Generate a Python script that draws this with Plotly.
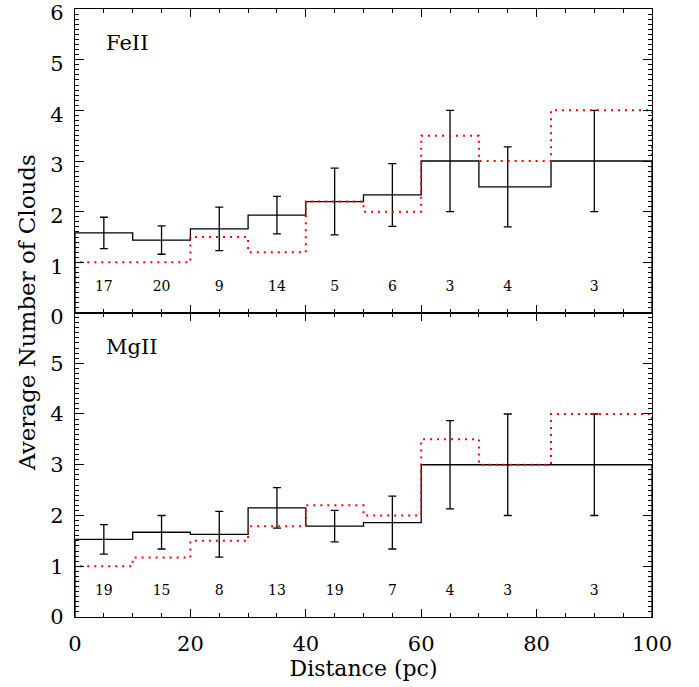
import plotly.graph_objects as go

# ---- data ----
bin_edges = [0, 10, 20, 30, 40, 50, 60, 70, 82.5, 100]
bar_centers = [5, 15, 25, 35, 45, 55, 65, 75, 90]

fe_mean = [1.58, 1.44, 1.66, 1.93, 2.20, 2.33, 3.0, 2.49, 3.0]
fe_err = [0.31, 0.28, 0.43, 0.37, 0.66, 0.62, 1.0, 0.79, 1.0]
fe_median = [1.0, 1.0, 1.5, 1.2, 2.2, 2.0, 3.5, 3.0, 4.0]
fe_counts = ["17", "20", "9", "14", "5", "6", "3", "4", "3"]

mg_mean = [1.53, 1.67, 1.63, 2.15, 1.79, 1.86, 3.0, 3.0, 3.0]
mg_err = [0.29, 0.33, 0.45, 0.40, 0.31, 0.52, 0.87, 1.0, 1.0]
mg_median = [1.0, 1.17, 1.5, 1.79, 2.2, 2.0, 3.5, 3.0, 4.0]
mg_counts = ["19", "15", "8", "13", "19", "7", "4", "3", "3"]

panel_names = ["FeII", "MgII"]

FONT = "DejaVu Serif"


def step_xy(edges, vals):
    xs = [edges[0]] + list(edges[:-1]) + [edges[-1], edges[-1]]
    ys = [0] + list(vals) + [vals[-1], 0]
    return xs, ys


fig = go.Figure()

panels = [
    (fe_mean, fe_err, fe_median, fe_counts, "x", "y"),
    (mg_mean, mg_err, mg_median, mg_counts, "x2", "y2"),
]

for mean, err, med, counts, xa, ya in panels:
    xs, ys = step_xy(bin_edges, mean)
    fig.add_trace(go.Scatter(x=xs, y=ys, mode="lines", line_shape="hv",
                             line=dict(color="black", width=1.3),
                             xaxis=xa, yaxis=ya, showlegend=False, hoverinfo="skip"))
    fig.add_trace(go.Scatter(x=bar_centers, y=mean, mode="markers",
                             marker=dict(size=1, color="rgba(0,0,0,0)"),
                             error_y=dict(type="data", array=err, symmetric=True,
                                          color="black", thickness=1.3, width=4),
                             xaxis=xa, yaxis=ya, showlegend=False, hoverinfo="skip"))
    xs, ys = step_xy(bin_edges, med)
    fig.add_trace(go.Scatter(x=xs, y=ys, mode="lines", line_shape="hv",
                             line=dict(color="#ff0000", width=2, dash="2px,5px"),
                             xaxis=xa, yaxis=ya, showlegend=False, hoverinfo="skip"))
    fig.add_trace(go.Scatter(x=bar_centers, y=[0.5] * len(bar_centers), mode="text",
                             text=counts, textfont=dict(family=FONT, size=14, color="black"),
                             xaxis=xa, yaxis=ya, showlegend=False, hoverinfo="skip"))

for name, xa, ya in [(panel_names[0], "x", "y"), (panel_names[1], "x2", "y2")]:
    fig.add_annotation(text=name, x=5, y=5.33, xref=xa, yref=ya, xanchor="left",
                       yanchor="middle", showarrow=False,
                       font=dict(family=FONT, size=21, color="black"))

common_x = dict(range=[0, 100], tickmode="linear", tick0=0, dtick=20, ticks="inside",
                ticklen=8, tickwidth=1.3, tickcolor="black", showline=True,
                linecolor="black", linewidth=1.4, mirror="allticks", showgrid=False,
                zeroline=False, automargin=False, ticklabeloverflow="allow",
                minor=dict(dtick=5, ticks="inside", ticklen=4, tickwidth=1.1,
                           tickcolor="black", showgrid=False),
                tickfont=dict(family=FONT, size=21, color="black"))
common_y = dict(tickmode="linear", tick0=0, dtick=1, ticks="inside", ticklen=9,
                tickwidth=1.3, tickcolor="black", showline=True, linecolor="black",
                linewidth=1.4, mirror="allticks", showgrid=False, zeroline=False,
                automargin=False, ticklabeloverflow="allow",
                minor=dict(dtick=0.1, ticks="inside", ticklen=4, tickwidth=1,
                           tickcolor="black", showgrid=False),
                tickfont=dict(family=FONT, size=21, color="black"),
                ticklabelstandoff=6)

fig.update_layout(
    width=699, height=687,
    margin=dict(l=75, r=47, t=9, b=70, autoexpand=False),
    paper_bgcolor="white", plot_bgcolor="white",
    xaxis=dict(**common_x, anchor="y", showticklabels=False, matches="x2"),
    yaxis=dict(**common_y, domain=[0.5, 1], anchor="x", range=[0, 6.0001],
               ticklabelshift=4),
    xaxis2=dict(**common_x, anchor="y2", ticklabelstandoff=8,
                title=dict(text="Distance (pc)", standoff=2,
                           font=dict(family=FONT, size=22, color="black"))),
    yaxis2=dict(**common_y, domain=[0, 0.5], anchor="x2", range=[0, 5.99]),
)

fig.add_annotation(text="Average Number of Clouds", xref="paper", yref="paper",
                   x=0, y=0.5, xshift=-48, textangle=-90, showarrow=False,
                   xanchor="center", yanchor="middle",
                   font=dict(family=FONT, size=23, color="black"))

fig.write_html("out.html", config={"displayModeBar": False},
               post_script="document.body.style.margin='0';")
